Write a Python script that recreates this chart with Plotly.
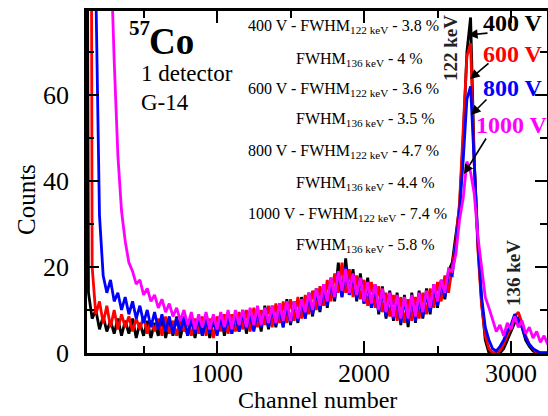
import plotly.graph_objects as go

# ---------------- data ----------------
# channel grid: 100, 125, ..., 3250 (one value per 25 channels)
channels = list(range(100, 3251, 25))

counts_400V = [
    300, 14, 8, 10, 5.5, 8.5, 5, 7.5, 4.5, 8,          # 100..325
    4, 7.5, 4.5, 8, 3.5, 7, 4, 7.5, 3.5, 7,            # 350..575
    4, 8, 3.5, 7.5, 4, 8.5, 3.5, 7.5, 4, 8,            # 600..825
    3.5, 8, 4, 8.5, 3.5, 7.5, 4.5, 9, 4, 8.5,          # 850..1075
    4.5, 9, 5, 10, 4.5, 9.5, 5.5, 10, 5, 11,           # 1100..1325
    5.5, 11, 6, 11.5, 6, 12.5, 6.5, 12, 7, 13,         # 1350..1575
    8, 14, 8.5, 15, 9.5, 16, 10.5, 17.5, 12, 21,       # 1600..1825
    13, 22, 13.5, 19.5, 12, 18.5, 11.5, 17.5, 10.5, 16,  # 1850..2075
    9, 15.5, 8, 14.5, 7.5, 14, 6.5, 13.5, 6, 14,       # 2100..2325
    7, 14.5, 8, 15, 9, 16, 10.5, 17, 12.5, 19,         # 2350..2575
    21, 27, 34, 50, 70, 78, 45, 25, 12, 3,             # 2600..2825
    0, 0, 0, 0, 1, 3, 5, 7, 8, 6,                      # 2850..3075
    3, 1.5, 0.5, 0, 0, 0, 0,                           # 3100..3250
]
counts_600V = [
    400, 400, 20, 9, 12, 7, 11, 6, 10, 5.5,
    9, 6, 8.5, 5, 8, 5.5, 8.5, 4.5, 7.5, 5,
    8, 4, 8.5, 4.5, 7.5, 4, 8, 5, 7.5, 4,
    8, 4.5, 8.5, 4, 8, 3.5, 8.5, 5, 9, 4.5,
    9, 5, 9.5, 5.5, 10, 5, 10.5, 6, 10, 6.5,
    11, 6, 11.5, 7, 12, 7, 12.5, 7.5, 13, 8,
    13.5, 9, 14.5, 10, 15.5, 11, 17, 12, 18.5, 14,
    21, 14, 19.5, 13, 18, 12.5, 17, 11, 16.5, 10.5,
    15.5, 9.5, 14, 8.5, 13.5, 7.5, 13, 7, 12.5, 7.5,
    13, 8, 14, 9, 15, 10.5, 16.5, 12, 18, 14,
    20, 26, 35, 51, 69, 72, 44, 24, 11, 4,
    1, 0, 0, 0.5, 2, 4, 6, 8.5, 9.5, 7,
    4, 2, 1, 0, 0, 0, 0,
]
counts_800V = [
    400, 400, 300, 85, 32, 18, 14, 17, 12, 14,
    10, 13, 9, 12, 8, 11, 7, 10, 6, 9.5,
    5.5, 9, 5, 8.5, 4.5, 8, 5, 8.5, 4, 8,
    4.5, 8, 4, 7.5, 4.5, 8.5, 4, 8, 5, 8.5,
    4.5, 9, 5, 9.5, 5.5, 9, 5, 10, 6, 10.5,
    6, 10, 6.5, 11, 6, 11.5, 7, 12, 7.5, 12.5,
    8, 13.5, 9, 14.5, 10, 15.5, 11, 17, 12.5, 19,
    13, 20, 13.5, 18, 12.5, 17.5, 11.5, 16, 10.5, 15.5,
    9.5, 14.5, 8.5, 14, 8, 13, 7, 12.5, 7, 13,
    7.5, 13, 8.5, 14, 9.5, 15.5, 11, 16.5, 13, 18.5,
    18, 25, 33, 45, 59, 62, 43, 26, 13, 6,
    3, 1, 0.5, 1.5, 3, 5, 6.5, 9, 7.5, 6,
    3.5, 2, 1, 0.5, 0, 0, 0,
]
counts_1000V = [
    400, 400, 400, 400, 400, 400, 300, 95, 68, 46,
    33, 26, 21, 19, 16, 17, 13.5, 15, 12, 13.5,
    10.5, 12.5, 9.5, 11.5, 8.5, 10.5, 7.5, 10, 6.5, 9.5,
    5.5, 9, 6, 9.5, 5.5, 9, 5.5, 9.5, 6, 10,
    5.5, 10, 6.5, 10, 6, 10.5, 6.5, 11, 6.5, 10.5,
    7, 11, 7, 11.5, 7.5, 12, 7.5, 12, 8, 12.5,
    9.5, 14, 10, 15, 11, 16, 12, 17.5, 13, 19,
    14.5, 19.5, 14, 18.5, 13.5, 17.5, 12, 16.5, 11.5, 16,
    10, 15, 9.5, 14, 8.5, 13.5, 8, 13, 8, 13.5,
    8.5, 14, 9.5, 14.5, 10.5, 16, 12, 17, 14, 19.5,
    19, 23, 31, 36, 44.5, 42, 37, 27, 20, 13,
    10.5, 8, 5, 6.5, 4, 7, 5.5, 8.5, 6, 7.5,
    4.5, 6, 3.5, 5, 2.5, 4, 2,
]

series_names = ["400 V", "600 V", "800 V", "1000 V"]
series_values = [counts_400V, counts_600V, counts_800V, counts_1000V]
series_colors = ["#000000", "#ff0000", "#0000ff", "#ff00ff"]

fwhm_lines = [
    ("400 V - FWHM<sub>122 keV</sub> - 3.8 %", "FWHM<sub>136 keV</sub> - 4 %"),
    ("600 V - FWHM<sub>122 keV</sub> - 3.6 %", "FWHM<sub>136 keV</sub> - 3.5 %"),
    ("800 V - FWHM<sub>122 keV</sub> - 4.7 %", "FWHM<sub>136 keV</sub> - 4.4 %"),
    ("1000 V - FWHM<sub>122 keV</sub> - 7.4 %", "FWHM<sub>136 keV</sub> - 5.8 %"),
]

FONT = "Liberation Serif, Times New Roman, serif"
W, H = 548, 416
L, R, T, B = 87, 1, 11, 63
PW, PH = W - L - R, H - T - B


def px(x):
    return (x - L) / PW


def py(y):
    return (H - B - y) / PH


fig = go.Figure()
for name, vals, col in zip(series_names, series_values, series_colors):
    fig.add_trace(go.Scatter(x=channels, y=vals, mode="lines", name=name,
                             line=dict(color=col, width=2.8), showlegend=False))

axis_common = dict(showline=True, linecolor="black", linewidth=2.5, mirror="ticks",
                   ticks="inside", ticklen=12, tickwidth=2, tickcolor="black",
                   showgrid=False, zeroline=False,
                   tickfont=dict(family=FONT, size=26, color="black"))

fig.update_xaxes(range=[115, 3245], dtick=1000, tick0=0, ticklabelstandoff=-5,
                 minor=dict(dtick=500, tick0=0, ticklen=7, tickwidth=2, tickcolor="black", ticks="inside"),
                 **axis_common)
fig.update_yaxes(range=[0, 79.5], dtick=20, tick0=0, ticklabelstandoff=10,
                 minor=dict(dtick=10, tick0=0, ticklen=7, tickwidth=2, tickcolor="black", ticks="inside"),
                 **axis_common)

ann = []
# axis titles
ann.append(dict(text="Channel number", x=px(317), y=py(400), xref="paper", yref="paper",
                showarrow=False, font=dict(family=FONT, size=24, color="black"),
                xanchor="center", yanchor="middle"))
ann.append(dict(text="Counts", x=px(27), y=py(200), xref="paper", yref="paper",
                showarrow=False, textangle=-90, font=dict(family=FONT, size=25, color="black"),
                xanchor="center", yanchor="middle"))
# source labels
ann.append(dict(text="<b>57</b>", x=px(127), y=py(28), xref="paper", yref="paper", showarrow=False,
                font=dict(family=FONT, size=21, color="black"), xanchor="left", yanchor="middle"))
ann.append(dict(text="<b>Co</b>", x=px(147), y=py(41), xref="paper", yref="paper", showarrow=False,
                font=dict(family=FONT, size=37, color="black"), xanchor="left", yanchor="middle"))
ann.append(dict(text="1 detector", x=px(139), y=py(73), xref="paper", yref="paper", showarrow=False,
                font=dict(family=FONT, size=23, color="black"), xanchor="left", yanchor="middle"))
ann.append(dict(text="G-14", x=px(139), y=py(102), xref="paper", yref="paper", showarrow=False,
                font=dict(family=FONT, size=23, color="black"), xanchor="left", yanchor="middle"))
# FWHM text block
row_y = [24, 57, 87, 118, 150, 182, 212, 243]
for i, (l1, l2) in enumerate(fwhm_lines):
    ann.append(dict(text=l1, x=px(246), y=py(row_y[2 * i] + 2), xref="paper", yref="paper",
                    showarrow=False, font=dict(family=FONT, size=16, color="black"),
                    xanchor="left", yanchor="middle"))
    ann.append(dict(text=l2, x=px(294), y=py(row_y[2 * i + 1] + 2), xref="paper", yref="paper",
                    showarrow=False, font=dict(family=FONT, size=16, color="black"),
                    xanchor="left", yanchor="middle"))
# peak labels
ann.append(dict(text="<b>122 keV</b>", x=px(451), y=py(48), xref="paper", yref="paper", showarrow=False,
                textangle=-90, font=dict(family=FONT, size=19, color="#222222"),
                xanchor="center", yanchor="middle"))
ann.append(dict(text="<b>136 keV</b>", x=px(513), y=py(273), xref="paper", yref="paper", showarrow=False,
                textangle=-90, font=dict(family=FONT, size=19, color="#222222"),
                xanchor="center", yanchor="middle"))
# voltage labels
label_pos = [(513, 23), (513, 54), (513, 88), (512, 125)]
for name, col, (lx, ly) in zip(series_names, series_colors, label_pos):
    ann.append(dict(text="<b>%s</b>" % name, x=px(lx), y=py(ly), xref="paper", yref="paper",
                    showarrow=False, font=dict(family=FONT, size=24, color=col),
                    xanchor="center", yanchor="middle"))
# arrows (head, tail)
arrows = [((468, 35), (489, 33)), ((470, 79), (490, 62)), ((471, 115), (488, 98)), ((464, 174), (487, 137))]
for (hx, hy), (tx, ty) in arrows:
    ann.append(dict(text="", x=px(hx), y=py(hy), xref="paper", yref="paper", showarrow=True,
                    ax=tx - hx, ay=ty - hy, axref="pixel", ayref="pixel",
                    arrowhead=2, arrowsize=1.2, arrowwidth=1.6, arrowcolor="black", standoff=0))

fig.update_layout(width=W, height=H, margin=dict(l=L, r=R, t=T, b=B, autoexpand=False),
                  paper_bgcolor="white", plot_bgcolor="white", annotations=ann,
                  font=dict(family=FONT, color="black"), showlegend=False)

fig.write_html("out.html")
